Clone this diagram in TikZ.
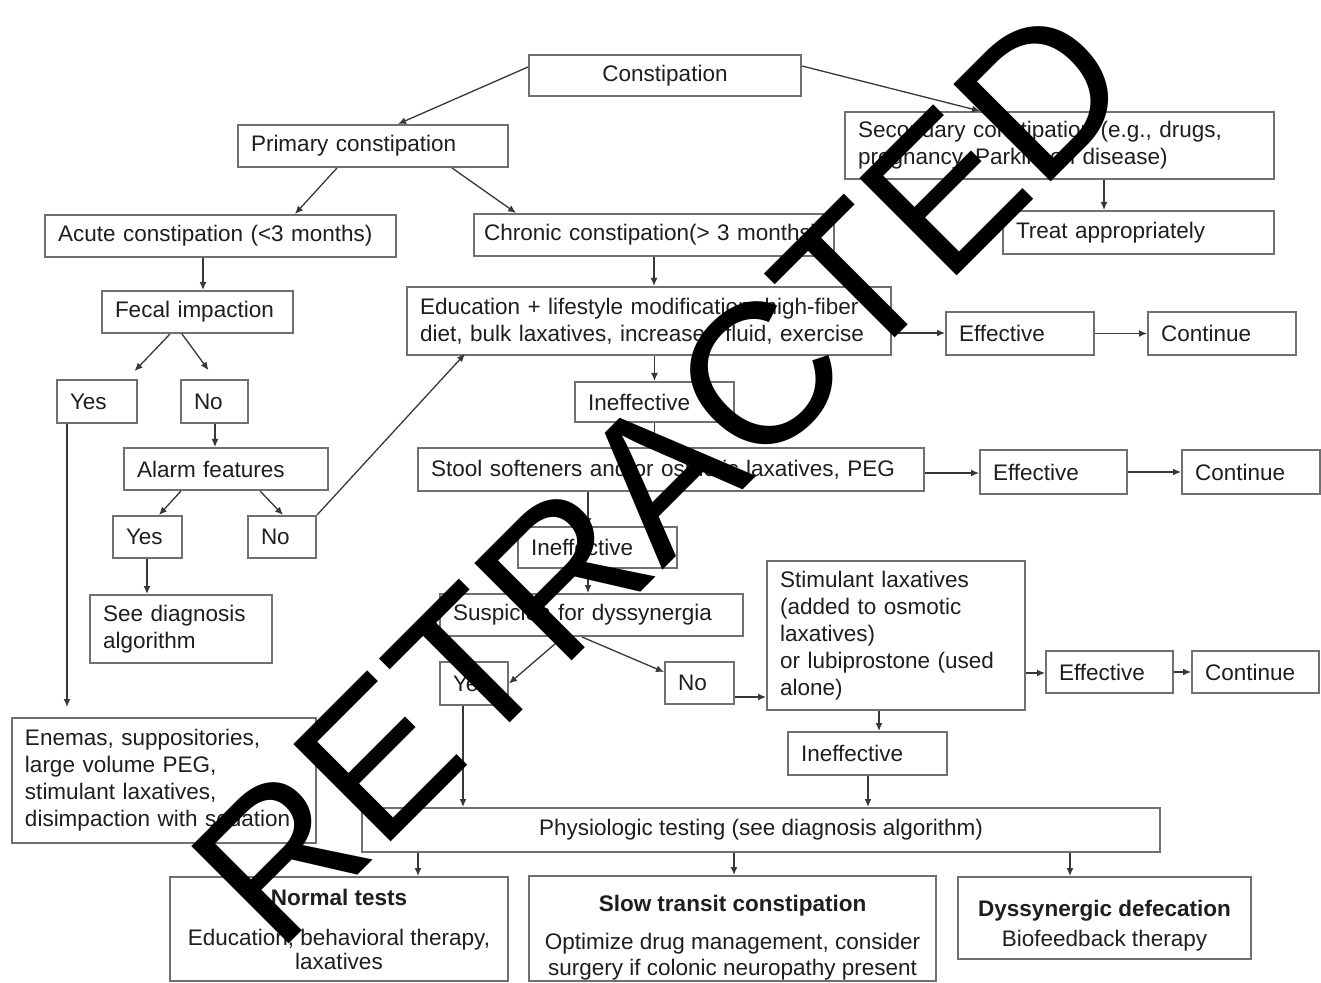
\documentclass[tikz,border=0pt]{standalone}
\usepackage{fontspec}
\setmainfont{Liberation Sans}
\usetikzlibrary{arrows.meta}
\definecolor{boxline}{HTML}{707070}
\definecolor{wireline}{HTML}{383838}
\definecolor{inkgray}{HTML}{1E1E1E}

\begin{document}
\begin{tikzpicture}[x=0.5pt, y=-0.5pt,
        every node/.style={font=\fontsize{11.25}{13.5}\selectfont, text=inkgray},
        box/.style={draw=boxline, line width=1pt, inner xsep=6.5pt, inner ysep=0pt, align=left},
        cbox/.style={draw=boxline, line width=1pt, inner sep=0pt, align=center},
        arr/.style={wireline, line width=0.65pt, -{Latex[length=4pt,width=3.5pt]}}]
    \useasboundingbox (0,0) rectangle (1321,983);
    \fill[white] (0,0) rectangle (1321,983);

    % first levels
    \node[cbox, minimum width=136pt, minimum height=20.5pt] (con) at (665,75.5) {Constipation};
    \node[box, text width=122pt, minimum height=21pt] (prim) at (373,146) {Primary constipation};
    \node[box, text width=201.5pt, minimum height=33.5pt] (sec) at (1059.5,145.5) {Secondary constipation (e.g., drugs,\\pregnancy, Parkinson disease)};
    \node[box, text width=122.5pt, minimum height=21.5pt] (treat) at (1138.5,232.5) {Treat appropriately};
    \node[box, text width=162.5pt, minimum height=21pt] (acute) at (220.5,236) {Acute constipation (<3 months)};
    \node[box, inner xsep=5pt, text width=170pt, minimum height=21pt] (chron) at (654,235) {\mbox{Chronic constipation(> 3 months)}};

    % acute side
    \node[box, text width=82.5pt, minimum height=21pt] (fecal) at (197.5,312) {Fecal impaction};
    \node[box, text width=27pt, minimum height=21.5pt] (yes1) at (97,401.5) {Yes};
    \node[box, text width=20.5pt, minimum height=21.5pt] (no1) at (214.5,401.5) {No};
    \node[box, text width=89pt, minimum height=21pt] (alarm) at (226,469) {Alarm features};
    \node[box, text width=21.5pt, minimum height=21pt] (yes2) at (147.5,537) {Yes};
    \node[box, text width=21pt, minimum height=21pt] (no2) at (282,537) {No};
    \node[box, text width=78pt, minimum height=34pt] (seediag) at (181,629) {See diagnosis\\algorithm};
    \node[box, text width=139pt, minimum height=62.5pt] (enema) at (164,780.5) {Enemas, suppositories,\\large volume PEG,\\stimulant laxatives,\\disimpaction with sedation};

    % chronic side
    \node[box, text width=229pt, minimum height=34pt] (edu) at (649,321) {Education + lifestyle modification, high-fiber\\diet, bulk laxatives, increased fluid, exercise};
    \node[box, text width=61pt, minimum height=21.5pt] (eff1) at (1020,333.5) {Effective};
    \node[box, text width=61pt, minimum height=21.5pt] (cont1) at (1222,333.5) {Continue};
    \node[box, text width=66.5pt, minimum height=20pt] (ineff1) at (654.5,402) {Ineffective};
    \node[box, text width=240pt, minimum height=21.5pt] (stool) at (671,469.5) {Stool softeners and/or osmotic laxatives, PEG};
    \node[box, text width=60.5pt, minimum height=22pt] (eff2) at (1053.5,472) {Effective};
    \node[box, text width=56pt, minimum height=22pt] (cont2) at (1251,472) {Continue};
    \node[box, text width=66.5pt, minimum height=20.5pt] (ineff2) at (597.5,547.5) {Ineffective};
    \node[box, text width=138.5pt, minimum height=21pt] (susp) at (591.5,615) {Suspicion for dyssynergia};
    \node[box, text width=21pt, minimum height=21.5pt] (yes3) at (474,683.5) {Yes};
    \node[box, text width=21.5pt, minimum height=21pt] (no3) at (699.5,683) {No};
    \node[box, text width=116pt, minimum height=74.5pt] (stim) at (896,635.5) {Stimulant laxatives\\(added to osmotic\\laxatives)\\or lubiprostone (used\\alone)};
    \node[box, text width=50.5pt, minimum height=21pt] (eff3) at (1109.5,672) {Effective};
    \node[box, text width=50.5pt, minimum height=21pt] (cont3) at (1255.5,672) {Continue};
    \node[box, text width=66.5pt, minimum height=21.5pt] (ineff3) at (867.5,753.5) {Ineffective};

    % testing and outcomes
    \node[cbox, minimum width=399pt, minimum height=22pt] (physio) at (761,830) {Physiologic testing (see diagnosis algorithm)};
    \node[cbox, minimum width=169pt, minimum height=52pt] (normal) at (339,929) {\textbf{Normal tests}\\[6.5pt]Education, behavioral therapy,\\[-1.5pt]laxatives};
    \node[cbox, minimum width=203.5pt, minimum height=52.5pt] (slow) at (732.5,928.5) {\rule{0pt}{17.2pt}\textbf{Slow transit constipation}\\[5.5pt]Optimize drug management, consider\\[-0.5pt]surgery if colonic neuropathy present};
    \node[cbox, minimum width=146.5pt, minimum height=41pt] (dyss) at (1104.5,918) {\rule{0pt}{16.2pt}\textbf{Dyssynergic defecation}\\[1.5pt]Biofeedback therapy};

    % arrows
    \draw[arr] (con.west |- 0,67) -- (prim.north -| 398,0);
    \draw[arr] (con.east |- 0,66) -- (sec.north -| 980,0);
    \draw[arr] (prim.south -| 337,0) -- (acute.north -| 295,0);
    \draw[arr] (prim.south -| 452,0) -- (chron.north -| 516,0);
    \draw[arr] (sec.south -| 1104,0) -- (treat.north -| 1104,0);
    \draw[arr] (acute.south -| 203,0) -- (fecal.north -| 203,0);
    \draw[arr] (chron.south) -- (edu.north -| chron.south);
    \draw[arr, shorten >=5.5pt] (fecal.south -| 170,0) -- (yes1.north -| 127,0);
    \draw[arr, shorten >=5.5pt] (fecal.south -| 182,0) -- (no1.north -| 215,0);
    \draw[arr] (no1.south -| 215,0) -- (alarm.north -| 215,0);
    \draw[arr, shorten >=5pt] (yes1.south -| 67,0) -- (enema.north -| 67,0);
    \draw[arr] (alarm.south -| 181,0) -- (yes2.north -| 159,0);
    \draw[arr] (alarm.south -| 260,0) -- (no2.north -| 283,0);
    \draw[arr] (yes2.south -| 147,0) -- (seediag.north -| 147,0);
    \draw[arr, shorten >=-1.5pt] (no2.north east) -- (edu.south -| 463,0);
    \draw[arr] (edu.east |- 0,333) -- (eff1.west |- 0,333);
    \draw[arr] (eff1) -- (cont1);
    \draw[arr] (edu.south -| ineff1.north) -- (ineff1.north);
    \draw[arr] (ineff1.south) -- (stool.north -| ineff1.south);
    \draw[arr] (stool.east |- 0,473) -- (eff2.west |- 0,473);
    \draw[arr] (eff2) -- (cont2);
    \draw[arr] (stool.south -| 588,0) -- (ineff2.north -| 588,0);
    \draw[arr] (ineff2.south -| 588,0) -- (susp.north -| 588,0);
    \draw[arr] (susp.south -| 563,0) -- (yes3.east);
    \draw[arr] (susp.south -| 582,0) -- (no3.west |- 0,672);
    \draw[arr] (no3.east |- 0,697) -- (stim.west |- 0,697);
    \draw[arr] (yes3.south -| 463,0) -- (physio.north -| 463,0);
    \draw[arr] (stim.east |- 0,673) -- (eff3.west |- 0,673);
    \draw[arr] (eff3) -- (cont3);
    \draw[arr] (stim.south -| 879,0) -- (ineff3.north -| 879,0);
    \draw[arr] (ineff3.south -| 868,0) -- (physio.north -| 868,0);
    \draw[arr] (physio.south -| 418,0) -- (normal.north -| 418,0);
    \draw[arr] (physio.south -| 734,0) -- (slow.north -| 734,0);
    \draw[arr] (physio.south -| 1070,0) -- (dyss.north -| 1070,0);

    % stamp across the chart
    \node[rotate=45, anchor=base west, inner sep=0pt, text=black, font=\fontsize{100}{100}\selectfont] (stamp) at (277,956) {RETRACTED};
\end{tikzpicture}
\end{document}
